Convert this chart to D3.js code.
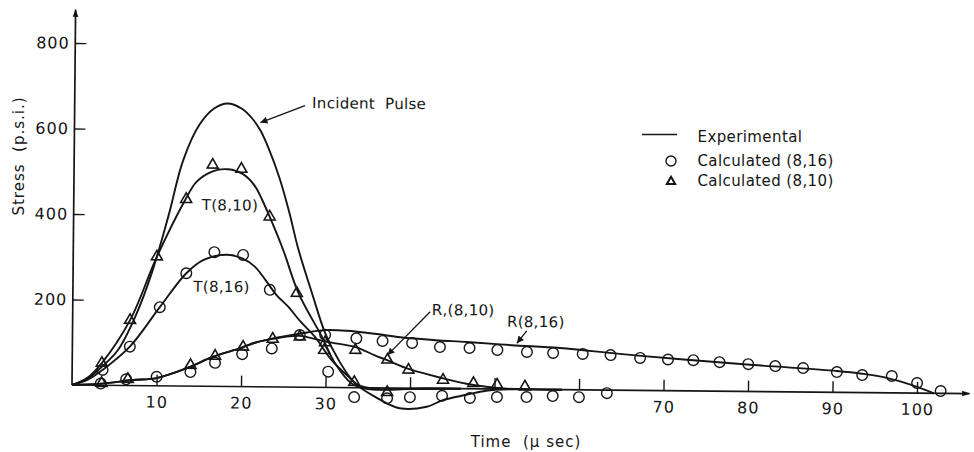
<!DOCTYPE html>
<html>
<head>
<meta charset="utf-8">
<script src="https://cdn.jsdelivr.net/npm/d3@7"></script>
<style>
  body { margin: 0; background: #fff; }
  svg { display: block; font-family: "DejaVu Sans", sans-serif; }
  text { fill: #151515; white-space: pre; }
</style>
</head>
<body>
<svg id="chart" width="974" height="452"></svg>
<script>
"use strict";

// ─── Data (time in µsec, stress in p.s.i.) ───────────────────────────────────
// Experimental curves
const incidentT = [0, 1.8, 3.5, 5.4, 7.4, 9.3, 11.2, 12.9, 14.8, 16.5, 18.1, 19.8, 21, 22, 23, 24.3, 25.5, 26.6, 28.3, 29.9, 31.5, 33.5, 35.9, 38.8, 42, 43.9, 46.7, 49, 52, 58];
const incidentS = [0, 15, 43, 83, 161, 263, 396, 528, 612, 650, 662, 650, 628, 600, 558, 490, 410, 325, 220, 127, 65, 10, -21, -47, -43, -27, -14, -4, 0, 0];

const t810T = [0, 1.8, 3.5, 6.8, 9.9, 13.2, 14.5, 16.4, 18.2, 20, 21.4, 22.3, 23.2, 24.85, 26.7, 29.5, 31.1, 33.1, 35, 37.5, 41, 46];
const t810S = [0, 17, 52, 153, 302, 436, 478, 503, 508, 497, 470, 437, 398, 320, 220, 119, 57, 10, -3, -4, 0, 0];

const t816T = [0, 1.8, 3.6, 6.8, 10.3, 13.4, 15.5, 18.2, 20, 21.5, 24.1, 25.5, 26.9, 28.7, 30.7, 32.7, 33.9, 36, 40, 46];
const t816S = [0, 12, 36, 91, 184, 264, 296, 308, 300, 281, 215, 188, 155, 118, 64, 26, 6, -2, -2, 0];

const r816T = [0, 3.5, 7.2, 10, 13.6, 16.6, 19.9, 21.6, 23, 26.9, 29.9, 32.5, 36, 38.8, 43, 46.7, 52, 57.7, 64.8, 72, 80.6, 90.5, 93.5, 96.4, 99.5, 102];
const r816S = [0, 4, 13, 18, 42, 69, 90, 103, 110, 125, 134, 133, 126, 119, 113, 109.5, 103, 97.5, 85, 74, 62, 50, 44, 35, 18, 0];

const r810T = [0, 3.5, 7.2, 10, 13.6, 16.6, 19.9, 21.6, 23, 25, 26.9, 30, 33.6, 35.8, 37.2, 40, 43.9, 47.5, 50.6, 54, 58];
const r810S = [0, 4, 13, 18, 42, 69, 90, 103, 110, 117, 120, 107, 94.5, 76, 65.6, 44, 24, 9, 2, 0, 0];

// Calculated (8,16) — circles
const calcT816T = [3.6, 6.8, 10.3, 13.4, 16.7, 20.1, 23.3, 30.3, 33.4, 37.3, 40, 43.8, 47.1, 50.3, 53.8, 56.9, 60, 63.3];
const calcT816S = [36, 91, 184, 264, 314, 308, 227, 37, -22, -24, -21, -17, -21.5, -18.5, -18, -15, -17, -7];
const calcR816T = [3.4, 6.4, 10, 14, 16.9, 20.1, 23.6, 26.9, 29.9, 33.6, 36.7, 40.2, 43.5, 47, 50.3, 53.8, 56.9, 60.4, 63.7, 67.2, 70.5, 73.5, 76.6, 80, 83.2, 86.5, 90.5, 93.5, 97, 100, 102.8];
const calcR816S = [4, 14.6, 21, 33, 55, 76, 90, 122, 123, 115.5, 110, 106, 97, 95.5, 91.5, 87.5, 85.6, 84, 82, 76, 73, 72, 68, 64, 60, 56, 47.5, 41, 39.5, 23.5, 5.5];

// Calculated (8,10) — triangles
const calcT810T = [3.5, 6.8, 9.9, 13.3, 16.4, 19.8, 23.2, 26.5, 29.8, 33.4, 37.3];
const calcT810S = [52, 153, 302, 437, 518, 509, 398, 220, 87, 13, -10];
const calcR810T = [3.5, 6.6, 14, 16.9, 20.2, 23.7, 26.9, 29.9, 33.5, 37.3, 39.8, 43.9, 47.5, 50.3, 53.6];
const calcR810S = [5, 15, 49, 71, 93, 112, 118, 105, 88, 66, 43, 20, 13, 10, 6];

const xTicks = [10, 20, 30, 40, 50, 60, 70, 80, 90, 100];
const xTickLabels = [10, 20, 30, 70, 80, 90, 100];
const yTicks = [200, 400, 600, 800];

// ─── Layout ──────────────────────────────────────────────────────────────────
const ink = "#151515";
const svg = d3.select("#chart");
const x = d3.scaleLinear().domain([0, 100]).range([72, 917]);
const y = d3.scaleLinear().domain([0, 800]).range([385, 43]);

// the scanned figure sits slightly rotated clockwise about its origin
const tilt = 0.55;
const plot = svg.append("g")
  .attr("transform", `rotate(${tilt} ${x(0)} ${y(0)})`);

const defs = svg.append("defs");
defs.append("marker")
  .attr("id", "axisHead")
  .attr("viewBox", "0 0 10 10").attr("refX", 9).attr("refY", 5)
  .attr("markerWidth", 8).attr("markerHeight", 8).attr("markerUnits", "userSpaceOnUse")
  .attr("orient", "auto")
  .append("path").attr("d", "M0,1.5 L10,5 L0,8.5 Z").attr("fill", ink);
defs.append("marker")
  .attr("id", "noteHead")
  .attr("viewBox", "0 0 10 10").attr("refX", 10).attr("refY", 5)
  .attr("markerWidth", 10).attr("markerHeight", 7).attr("markerUnits", "userSpaceOnUse")
  .attr("orient", "auto")
  .append("path").attr("d", "M0,0 L10,5 L0,10 Z").attr("fill", ink);

// ─── Axes ────────────────────────────────────────────────────────────────────
const xAxis = d3.axisBottom(x)
  .tickValues(xTicks)
  .tickSizeInner(-11).tickSizeOuter(0).tickPadding(10.5)
  .tickFormat(d => xTickLabels.includes(d) ? d : "");
const gx = plot.append("g").attr("transform", `translate(0,${y(0)})`).call(xAxis);

const yAxis = d3.axisLeft(y)
  .tickValues(yTicks)
  .tickSizeInner(-11).tickSizeOuter(0).tickPadding(5.5);
const gy = plot.append("g").attr("transform", `translate(${x(0)},0)`).call(yAxis);

[gx, gy].forEach(g => {
  g.select(".domain").remove();
  g.selectAll(".tick line").attr("stroke", ink).attr("stroke-width", 1.4);
  g.selectAll(".tick text")
    .attr("fill", ink)
    .style("font-family", '"DejaVu Sans", sans-serif')
    .style("font-size", "16px")
    .style("letter-spacing", "1px");
});

plot.append("line")
  .attr("x1", x(0)).attr("y1", y(0)).attr("x2", x(106.2)).attr("y2", y(0))
  .attr("stroke", ink).attr("stroke-width", 1.7).attr("marker-end", "url(#axisHead)");
plot.append("line")
  .attr("x1", x(0)).attr("y1", y(0)).attr("x2", x(0)).attr("y2", y(878))
  .attr("stroke", ink).attr("stroke-width", 1.7).attr("marker-end", "url(#axisHead)");

// ─── Experimental curves ─────────────────────────────────────────────────────
const line = d3.line()
  .x(d => x(d[0]))
  .y(d => y(d[1]))
  .curve(d3.curveCatmullRom.alpha(0.5));

const curves = [
  d3.zip(incidentT, incidentS),
  d3.zip(t810T, t810S),
  d3.zip(t816T, t816S),
  d3.zip(r816T, r816S),
  d3.zip(r810T, r810S),
];
plot.selectAll("path.curve")
  .data(curves)
  .join("path")
  .attr("class", "curve")
  .attr("d", line)
  .attr("fill", "none")
  .attr("stroke", ink)
  .attr("stroke-width", 1.9)
  .attr("stroke-linejoin", "round");

// ─── Calculated points ───────────────────────────────────────────────────────
const circlePts = d3.zip(calcT816T, calcT816S).concat(d3.zip(calcR816T, calcR816S));
plot.selectAll("circle.calc816")
  .data(circlePts)
  .join("circle")
  .attr("class", "calc816")
  .attr("cx", d => x(d[0]))
  .attr("cy", d => y(d[1]))
  .attr("r", 5.3)
  .attr("fill", "none")
  .attr("stroke", ink)
  .attr("stroke-width", 1.4);

const tri = d3.symbol(d3.symbolTriangle, 52);
const triPts = d3.zip(calcT810T, calcT810S).concat(d3.zip(calcR810T, calcR810S));
plot.selectAll("path.calc810")
  .data(triPts)
  .join("path")
  .attr("class", "calc810")
  .attr("transform", d => `translate(${x(d[0])},${y(d[1])})`)
  .attr("d", tri)
  .attr("fill", "none")
  .attr("stroke", ink)
  .attr("stroke-width", 1.6)
  .attr("stroke-linejoin", "miter");

// ─── Curve labels and pointers (positioned in data units) ────────────────────
const notes = [
  { text: "Incident  Pulse", t: 28.1, s: 653 },
  { text: "T(8,10)", t: 15.15, s: 412 },
  { text: "T(8,16)", t: 14.25, s: 221 },
  { text: "R,(8,10)", t: 42.5, s: 172 },
  { text: "R(8,16)", t: 51.4, s: 146 },
];
plot.selectAll("text.note")
  .data(notes)
  .join("text")
  .attr("class", "note")
  .attr("x", d => x(d.t))
  .attr("y", d => y(d.s))
  .style("font-size", "15px")
  .style("letter-spacing", "0.3px")
  .text(d => d.text);

const pointers = [
  [[27.25, 658.5], [22, 618]],
  [[42.3, 179.4], [37.3, 77]],
  [[53.75, 136.6], [52.6, 107.6]],
];
plot.selectAll("line.pointer")
  .data(pointers)
  .join("line")
  .attr("class", "pointer")
  .attr("x1", d => x(d[0][0])).attr("y1", d => y(d[0][1]))
  .attr("x2", d => x(d[1][0])).attr("y2", d => y(d[1][1]))
  .attr("stroke", ink).attr("stroke-width", 1.3)
  .attr("marker-end", "url(#noteHead)");

// ─── Legend ──────────────────────────────────────────────────────────────────
const legend = svg.append("g").attr("class", "legend").style("font-size", "15px");
legend.append("line")
  .attr("x1", 642).attr("x2", 677).attr("y1", 134.5).attr("y2", 134.5)
  .attr("stroke", ink).attr("stroke-width", 1.6);
legend.append("circle")
  .attr("cx", 671).attr("cy", 161).attr("r", 5)
  .attr("fill", "none").attr("stroke", ink).attr("stroke-width", 1.4);
legend.append("path")
  .attr("transform", "translate(671,181.5)")
  .attr("d", d3.symbol(d3.symbolTriangle, 30))
  .attr("fill", "none").attr("stroke", ink).attr("stroke-width", 2);
const legendText = ["Experimental", "Calculated (8,16)", "Calculated (8,10)"];
const legendY = [141.5, 165.7, 186];
legend.selectAll("text")
  .data(legendText)
  .join("text")
  .attr("x", 697.5)
  .attr("y", (d, i) => legendY[i])
  .style("letter-spacing", "0.4px")
  .text(d => d);

// ─── Axis titles ─────────────────────────────────────────────────────────────
svg.append("text")
  .attr("transform", "translate(23.5,156) rotate(-90)")
  .attr("text-anchor", "middle")
  .style("font-size", "15px")
  .style("letter-spacing", "1px")
  .text("Stress  (p.s.i.)");
svg.append("text")
  .attr("x", 526).attr("y", 447)
  .attr("text-anchor", "middle")
  .style("font-size", "15px")
  .style("letter-spacing", "1px")
  .text("Time  (\u00b5 sec)");
</script>
</body>
</html>
